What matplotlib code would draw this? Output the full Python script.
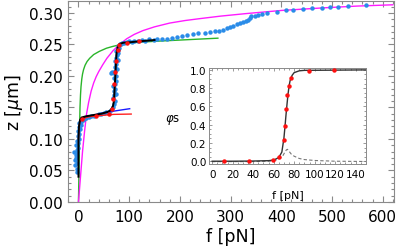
import numpy as np
import matplotlib
matplotlib.use("Agg")
import matplotlib.pyplot as plt
from matplotlib.ticker import AutoMinorLocator, FormatStrFormatter

# measured data (blue dots): force [pN], extension [um]
data_f = [-2, -3, -6, -2, -7, -4, -5, -2, -8, -3, -1, -4, 0, -2, 1, -1, 2, 0, 3, 1, 4, 2, 5, 8,
          10, 15, 20, 25, 30, 40, 45, 50, 55, 60, 64, 68,
          70, 72, 68, 71, 74, 70, 73, 69, 72, 75, 71, 74, 64, 66, 70, 73, 76, 72, 75, 73, 77,
          74, 76, 78, 75, 77, 79, 78, 81, 83,
          85, 90, 95, 100, 105, 110, 118, 125, 132, 140, 148, 155, 165, 175, 185, 195, 205,
          215, 225, 235, 249, 259, 269, 277, 285, 292, 298, 305, 312, 318, 325, 330, 334,
          338, 341, 348, 354, 362, 371, 391, 410, 423, 443, 460, 480, 496, 512, 532, 567]
data_z = [0.048, 0.052, 0.058, 0.062, 0.066, 0.070, 0.075, 0.078, 0.080, 0.083, 0.086, 0.090,
          0.093, 0.097, 0.100, 0.104, 0.108, 0.112, 0.116, 0.119, 0.122, 0.125, 0.127, 0.130,
          0.132, 0.134, 0.135, 0.136, 0.137, 0.139, 0.140, 0.141, 0.142, 0.143, 0.146, 0.150,
          0.155, 0.160, 0.165, 0.170, 0.172, 0.176, 0.180, 0.184, 0.188, 0.192, 0.196, 0.200,
          0.204, 0.207, 0.204, 0.208, 0.211, 0.215, 0.219, 0.223, 0.226,
          0.229, 0.233, 0.236, 0.239, 0.242, 0.245, 0.248, 0.250, 0.251,
          0.252, 0.253, 0.254, 0.255, 0.254, 0.256, 0.255, 0.257, 0.256, 0.258, 0.257, 0.258,
          0.259, 0.259, 0.261, 0.262, 0.264, 0.265, 0.267, 0.268, 0.268, 0.270, 0.271, 0.272,
          0.2735, 0.276, 0.278, 0.280, 0.282, 0.284, 0.286, 0.288, 0.289, 0.292, 0.295, 0.296,
          0.297, 0.299, 0.300, 0.302, 0.305, 0.304, 0.306, 0.308, 0.308, 0.3095, 0.310,
          0.311, 0.313]

# selected points (red)
sel_f = [6, 35, 61, 67, 69, 71, 73, 75, 77, 79, 96, 120]
sel_z = [0.131, 0.137, 0.139, 0.148, 0.163, 0.187, 0.206, 0.224, 0.242, 0.249, 0.252, 0.255]

# model curves
fit_f = [0, 0, 1, 3, 6, 15, 30, 45, 58, 64, 68, 70, 71, 72, 73, 74, 75, 77, 81, 90, 101, 120, 150]
fit_z = [0.04, 0.10, 0.12, 0.13, 0.134, 0.136, 0.138, 0.140, 0.143, 0.146, 0.152, 0.160,
         0.175, 0.190, 0.205, 0.222, 0.235, 0.245, 0.251, 0.253, 0.2535, 0.255, 0.257]

green_f = [0, 1, 2, 2.5, 3, 4, 5, 6.5, 8, 10, 13, 17, 22, 30, 41, 55, 68, 84, 110, 150, 200, 275]
green_z = [0.0, 0.05, 0.10, 0.13, 0.15, 0.17, 0.183, 0.195, 0.203, 0.210, 0.217, 0.223,
           0.228, 0.234, 0.239, 0.244, 0.247, 0.250, 0.253, 0.255, 0.257, 0.260]

magenta_f = [0, 2, 5, 8, 12, 16, 20, 25, 30, 35, 40, 48, 56, 68, 81, 95, 110, 127, 150,
             180, 210, 239, 280, 330, 400, 480, 550, 620]
magenta_z = [0.0, 0.02, 0.05, 0.08, 0.112, 0.14, 0.158, 0.176, 0.189, 0.199, 0.207, 0.218,
             0.228, 0.240, 0.250, 0.259, 0.266, 0.272, 0.278, 0.284, 0.288, 0.291, 0.295,
             0.299, 0.304, 0.308, 0.311, 0.313]

blue_f = [3, 10, 30, 60, 101]
blue_z = [0.128, 0.134, 0.138, 0.143, 0.148]

red_f = [0, 1, 3, 8, 20, 40, 70, 104]
red_z = [0.10, 0.12, 0.128, 0.132, 0.135, 0.137, 0.139, 0.1395]

# inset: fraction vs force
ins_f = [11.8, 35.6, 59.1, 65.4, 69.9, 71.3, 72.5, 73.5, 74.5, 76.8, 94.8, 118.9]
ins_phi = [0.0, 0.0, 0.015, 0.047, 0.236, 0.389, 0.571, 0.727, 0.825, 0.916, 0.989, 0.996]

sig_f = [0, 20, 40, 55, 60, 65, 68, 70, 71, 72, 73, 74, 75, 76, 78, 80, 85, 90, 150]
sig_phi = [0.0, 0.0, 0.002, 0.006, 0.012, 0.04, 0.10, 0.25, 0.37, 0.50, 0.62, 0.73, 0.82,
           0.88, 0.94, 0.97, 0.99, 0.995, 1.0]

fluct_f = [0, 40, 55, 62, 66, 69, 71, 72.5, 73.5, 75, 77, 80, 85, 90, 100, 120, 150]
fluct_phi = [-0.005, -0.004, 0.0, 0.01, 0.03, 0.06, 0.10, 0.125, 0.13, 0.11, 0.08, 0.055,
             0.03, 0.018, 0.008, 0.0, -0.003]

plt.rcParams['font.family'] = 'DejaVu Sans'
grey = '#8a8a8a'

fig = plt.figure(figsize=(3.99, 2.53), dpi=100)
ax = fig.add_axes([0.170, 0.198, 0.817, 0.794])

ax.plot(green_f, green_z, color='#2ab52a', lw=1.0, zorder=2)
ax.plot(magenta_f, magenta_z, color='#ff1aff', lw=1.0, zorder=2)
ax.plot(data_f, data_z, 'o', color='#2a8ce8', ms=3.2, mec='none', zorder=3)
ax.plot(blue_f, blue_z, color='#1a1aff', lw=1.0, zorder=4)
ax.plot(red_f, red_z, color='#ff2020', lw=1.0, zorder=4)
ax.plot(fit_f, fit_z, color='black', lw=1.4, zorder=5)
ax.plot(sel_f, sel_z, 'o', color='#ff1010', ms=3.2, mec='none', zorder=6)

ax.set_xlim(-21, 622)
ax.set_ylim(0, 0.319)
ax.set_xticks(range(0, 601, 100))
ax.set_yticks(np.arange(0, 0.31, 0.05))
ax.yaxis.set_major_formatter(FormatStrFormatter('%.2f'))
ax.xaxis.set_minor_locator(AutoMinorLocator(5))
ax.yaxis.set_minor_locator(AutoMinorLocator(5))
ax.tick_params(which='both', direction='in', top=True, right=True, color=grey,
               labelsize=11, width=0.8)
ax.tick_params(axis='x', pad=5)
ax.tick_params(which='major', length=4)
ax.tick_params(which='minor', length=2)
for s in ax.spines.values():
    s.set_color(grey)
    s.set_linewidth(0.8)
ax.set_xlabel('f [pN]', fontsize=12.5, labelpad=2)
ax.set_ylabel(r'z [$\mu$m]', fontsize=12.5, labelpad=3)

# inset
ins = fig.add_axes([0.524, 0.348, 0.393, 0.379])
ins.plot(fluct_f, fluct_phi, color='#777777', lw=0.8, ls=(0, (3, 2)), zorder=2)
ins.plot(sig_f, sig_phi, color='#333333', lw=1.0, zorder=3)
ins.plot(ins_f, ins_phi, 'o', color='#ff1010', ms=3.2, mec='none', zorder=4)
ins.set_xlim(-3, 150)
ins.set_ylim(-0.03, 1.02)
ins.set_xticks(range(0, 141, 20))
ins.set_yticks(np.arange(0, 1.01, 0.2))
ins.yaxis.set_major_formatter(FormatStrFormatter('%.1f'))
ins.xaxis.set_minor_locator(AutoMinorLocator(4))
ins.yaxis.set_minor_locator(AutoMinorLocator(4))
ins.tick_params(which='both', direction='in', top=True, right=True, color=grey,
                labelsize=7.5, width=0.6, pad=2)
ins.tick_params(axis='x', pad=3.5)
ins.tick_params(which='major', length=2.5)
ins.tick_params(which='minor', length=1.5)
for s in ins.spines.values():
    s.set_color(grey)
    s.set_linewidth(0.7)
ins.set_xlabel('f [pN]', fontsize=8, labelpad=8)
ins.set_ylabel(r'$\varphi$s', fontsize=8.5, rotation=0, va='center')
ins.yaxis.set_label_coords(-0.23, 0.47)

fig.savefig('out.png', dpi=100)
